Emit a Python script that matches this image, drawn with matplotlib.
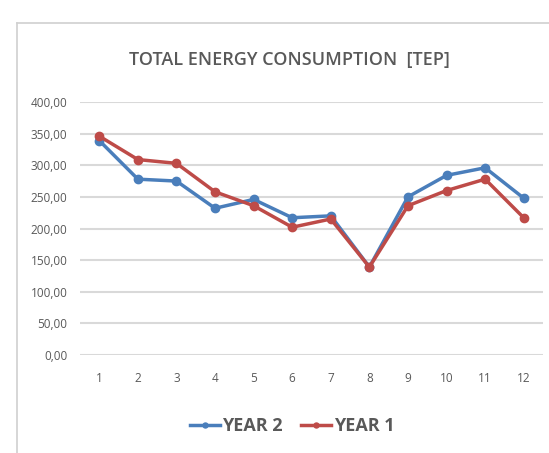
import numpy as np
import matplotlib
matplotlib.use("Agg")
import matplotlib.pyplot as plt
from matplotlib.lines import Line2D

# data
months = [1, 2, 3, 4, 5, 6, 7, 8, 9, 10, 11, 12]
year2 = [339, 278, 275, 232, 246, 217, 220, 139, 250, 284, 296, 248]
year1 = [346, 309, 303, 258, 236, 202, 215, 139, 236, 260, 278, 217]
yticks = [0, 50, 100, 150, 200, 250, 300, 350, 400]
ytick_labels = ["0,00", "50,00", "100,00", "150,00", "200,00",
                "250,00", "300,00", "350,00", "400,00"]

plt.rcParams['font.family'] = ['Open Sans', 'DejaVu Sans']
text_gray = '#595959'
blue = '#4a7ebb'
red = '#be4b48'

fig = plt.figure(figsize=(5.49, 4.53), dpi=100)
ax = fig.add_axes([80 / 549, 1 - 355 / 453, 463 / 549, 253 / 453])

ax.plot(months, year2, color=blue, lw=2.5, marker='o', ms=6, label='YEAR 2')
ax.plot(months, year1, color=red, lw=2.5, marker='o', ms=6, label='YEAR 1')

ax.set_xlim(0.5, 12.5)
ax.set_ylim(0, 400)
ax.set_yticks(yticks)
ax.set_yticklabels(ytick_labels)
ax.set_xticks(months)
ax.grid(axis='y', color='#d9d9d9', lw=1.5)
ax.set_axisbelow(True)
for s in ax.spines.values():
    s.set_visible(False)
ax.tick_params(length=0, colors=text_gray, labelsize=8.5)
ax.tick_params(axis='y', pad=9)
ax.tick_params(axis='x', pad=12)

fig.text(0.528, 1 - 60 / 453, 'TOTAL ENERGY CONSUMPTION  [TEP]', ha='center', va='center',
         fontsize=13, color=text_gray, fontweight='semibold')

leg = fig.legend(loc='center', bbox_to_anchor=(0.532, 1 - 426 / 453), ncol=2, frameon=False,
                 fontsize=13, handlelength=1.65, columnspacing=1.0, handletextpad=0.15,
                 markerscale=0.6)
for t in leg.get_texts():
    t.set_color(text_gray)
    t.set_fontweight('bold')

# outer chart frame (top and left edges visible)
fig.add_artist(Line2D([17 / 549, 17 / 549], [0, 1 - 23 / 453], color='#d0d0d0', lw=1.2))
fig.add_artist(Line2D([17 / 549, 1], [1 - 23 / 453, 1 - 23 / 453], color='#d0d0d0', lw=1.2))

fig.savefig('out.png', dpi=100)
